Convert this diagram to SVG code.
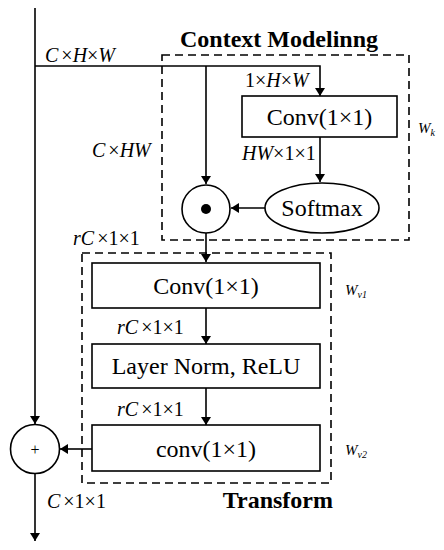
<svg xmlns="http://www.w3.org/2000/svg" width="444" height="550" viewBox="0 0 444 550">
<defs>
<marker id="ah" viewBox="0 0 10 10" refX="10" refY="5" markerWidth="8" markerHeight="10" markerUnits="userSpaceOnUse" orient="auto" preserveAspectRatio="none"><path d="M0,0 L10,5 L0,10 z" fill="#000"/></marker>
<style>
.ln{stroke:#000;stroke-width:1.6;fill:none}
.ar{stroke:#000;stroke-width:1.6;fill:none;marker-end:url(#ah)}
.box{stroke:#000;stroke-width:1.6;fill:#fff}
.dash{stroke:#000;stroke-width:1.6;fill:none;stroke-dasharray:8 5}
text{font-family:"Liberation Serif","Times New Roman",serif;fill:#000}
.lbl{font-size:20px}
.big{font-size:24px}
.ttl{font-size:24px;font-weight:bold}
.w{font-size:15px;font-style:italic}
.i{font-style:italic}
.sub{font-size:10px}
</style>
</defs>
<g id="groups">
<rect class="dash" x="162" y="55" width="247" height="185"/>
<rect class="dash" x="82" y="253" width="249" height="230"/>
<text class="ttl" x="279" y="47" text-anchor="middle">Context Modelinng</text>
<text class="ttl" x="333" y="508" text-anchor="end">Transform</text>
</g>
<g id="connectors">
<path class="ar" d="M35,8 V424"/>
<path class="ar" d="M35,66 H320 V96"/>
<path class="ar" d="M206,66 V184"/>
<path class="ar" d="M320,137 V182"/>
<path class="ar" d="M265,208 H231"/>
<path class="ar" d="M206,233 V262"/>
<path class="ar" d="M206,308 V344"/>
<path class="ar" d="M206,388 V425"/>
<path class="ar" d="M92,449 H60"/>
<path class="ar" d="M35,474 V541"/>
</g>
<g id="labels">
<text class="lbl" x="45" y="62"><tspan class="i">C</tspan><tspan dx="3">×</tspan><tspan class="i">H</tspan>×<tspan class="i">W</tspan></text>
<text class="lbl" x="245" y="87">1×<tspan class="i">H</tspan>×<tspan class="i">W</tspan></text>
<text class="lbl" x="92" y="157"><tspan class="i">C</tspan><tspan dx="3">×</tspan><tspan class="i">HW</tspan></text>
<text class="lbl" x="242" y="160"><tspan class="i">HW</tspan>×1×1</text>
<text class="lbl" x="73" y="245"><tspan class="i">rC</tspan><tspan dx="3">×1×1</tspan></text>
<text class="lbl" x="117" y="334"><tspan class="i">rC</tspan><tspan dx="3">×1×1</tspan></text>
<text class="lbl" x="117" y="416"><tspan class="i">rC</tspan><tspan dx="3">×1×1</tspan></text>
<text class="lbl" x="47" y="508"><tspan class="i">C</tspan><tspan dx="3">×1×1</tspan></text>
<text class="w" x="418" y="133">W<tspan class="sub" dy="3">k</tspan></text>
<text class="w" x="345" y="295">W<tspan class="sub" dy="3">v1</tspan></text>
<text class="w" x="345" y="455">W<tspan class="sub" dy="3">v2</tspan></text>
</g>
<g id="conv_k">
<rect class="box" x="242" y="96" width="155" height="41"/>
<text class="big" x="319.5" y="125" text-anchor="middle">Conv(1×1)</text>
</g>
<g id="softmax">
<ellipse class="box" cx="322" cy="208" rx="57" ry="25"/>
<text class="big" x="322" y="216" text-anchor="middle">Softmax</text>
</g>
<g id="odot">
<circle class="box" cx="206" cy="209" r="24"/>
<circle cx="206" cy="209" r="5" fill="#000"/>
</g>
<g id="conv_v1">
<rect class="box" x="92" y="263" width="228" height="45"/>
<text class="big" x="206" y="294" text-anchor="middle">Conv(1×1)</text>
</g>
<g id="layernorm">
<rect class="box" x="92" y="344" width="228" height="44"/>
<text class="big" x="206" y="374" text-anchor="middle">Layer Norm, ReLU</text>
</g>
<g id="conv_v2">
<rect class="box" x="92" y="425" width="228" height="46"/>
<text class="big" x="206" y="457" text-anchor="middle">conv(1×1)</text>
</g>
<g id="plus">
<circle class="box" cx="35" cy="449" r="24.5"/>
<text x="35" y="455" font-size="16" text-anchor="middle">+</text>
</g>
</svg>
